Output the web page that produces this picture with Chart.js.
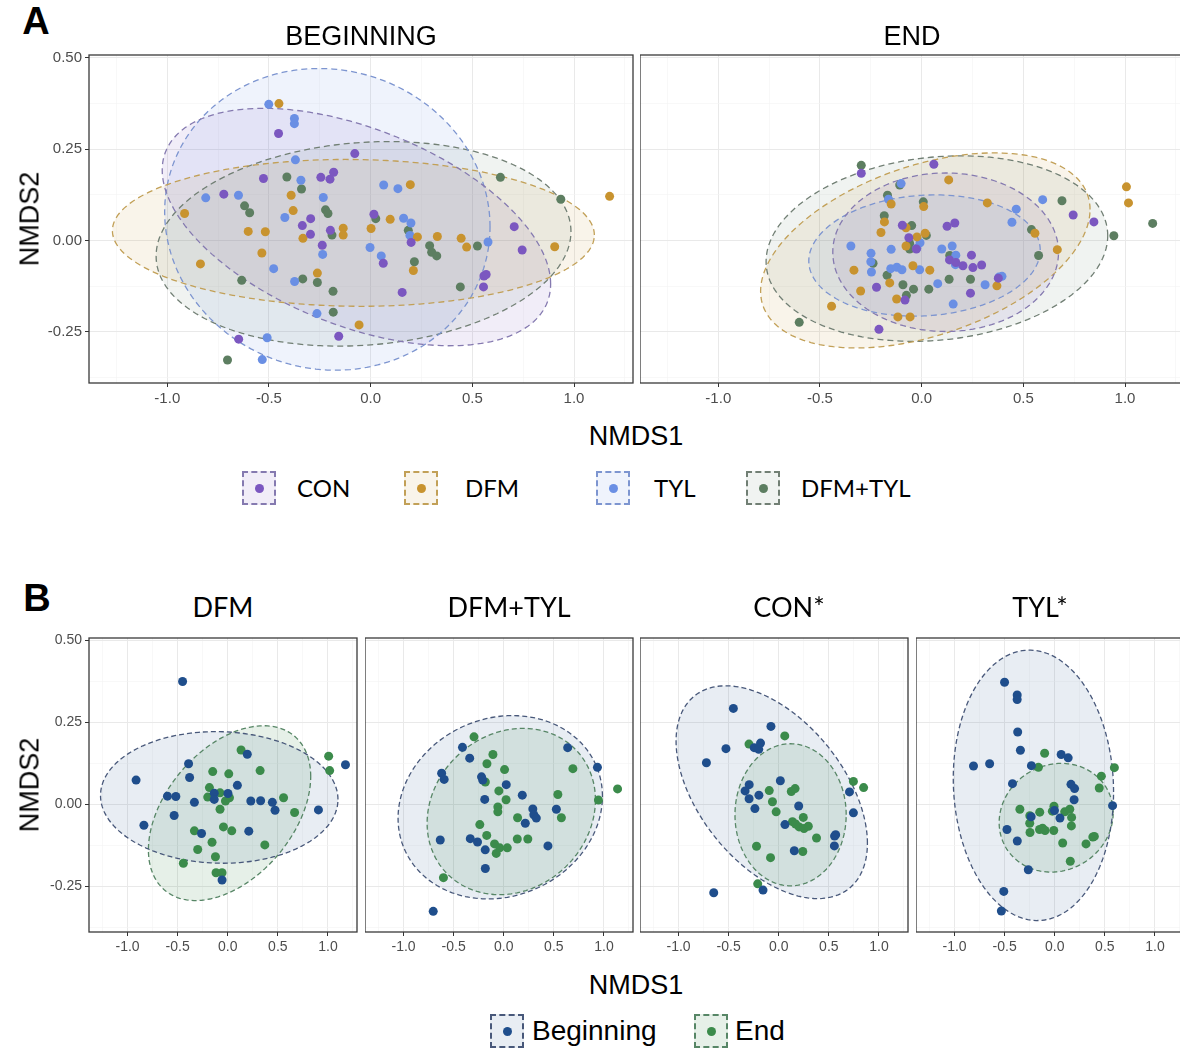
<!DOCTYPE html>
<html>
<head>
<meta charset="utf-8">
<script src="https://cdn.jsdelivr.net/npm/chart.js@4.4.1/dist/chart.umd.min.js"></script>
<style>
  html, body { margin: 0; padding: 0; background: #fff; overflow: hidden; }
  #fig { position: relative; width: 1180px; height: 1048px; overflow: hidden; font-family: "Liberation Sans", Arial, sans-serif; }
  #fig canvas { position: absolute; }
  .t { position: absolute; line-height: 1; white-space: nowrap; transform: translate(-50%, -50%); color: #000; }
  .key { position: absolute; box-sizing: border-box; width: 34px; height: 34px; border: 2px dashed; }
  .key i { position: absolute; left: 50%; top: 50%; width: 9px; height: 9px; margin: -4.5px 0 0 -4.5px; border-radius: 50%; }
</style>
</head>
<body>
<div id="fig"></div>
<script>
// axis ticks (shared by every facet)
const xMajor = [-1.0, -0.5, 0.0, 0.5, 1.0];
const xMinor = [-1.25, -0.75, -0.25, 0.25, 0.75, 1.25];
const xTickLabels = ['-1.0', '-0.5', '0.0', '0.5', '1.0'];
const yMajor = [-0.25, 0.0, 0.25, 0.5];
const yMinor = [-0.375, -0.125, 0.125, 0.375];
const yTickLabels = ['-0.25', '0.00', '0.25', '0.50'];
const X_MIN = -1.385, X_MAX = 1.29, Y_MIN = -0.39, Y_MAX = 0.508;

const groupNames = ['CON', 'DFM', 'TYL', 'DFM+TYL'];
const periodNames = ['Beginning', 'End'];
const facetTitlesA = ['BEGINNING', 'END'];
const facetTitlesB = ['DFM', 'DFM+TYL', 'CON*', 'TYL*'];

// NMDS scores, [NMDS1, NMDS2]
const conBeginning = [[-0.453,0.293],[-0.078,0.238],[-0.527,0.170],[-0.245,0.173],[-0.200,0.168],[-0.182,0.187],
  [-0.722,0.127],[-0.295,0.060],[-0.336,0.041],[-0.296,0.017],[-0.198,0.028],[-0.238,-0.013],[0.016,0.072],
  [0.199,-0.005],[0.062,-0.062],[0.155,-0.142],[0.557,-0.097],[0.568,-0.093],[0.555,-0.127],[0.706,0.038],
  [0.745,-0.026],[-0.649,-0.270],[-0.157,-0.262]];
const conEnd = [[0.060,0.209],[-0.297,0.184],[-0.095,0.042],[0.125,0.039],[0.163,0.048],[-0.063,0.008],
  [0.745,0.070],[0.847,0.051],[0.137,-0.053],[0.168,-0.060],[0.203,-0.069],[0.245,-0.040],[0.252,-0.074],
  [0.295,-0.067],[-0.026,-0.023],[0.377,-0.103],[-0.222,-0.128],[-0.082,-0.163],[0.240,-0.144],[-0.210,-0.243]];
const dfmBeginning = [[-0.451,0.375],[0.195,0.153],[1.175,0.121],[-0.915,0.074],[-0.391,0.124],[-0.381,0.082],
  [-0.602,0.025],[-0.518,0.024],[-0.333,0.006],[-0.135,0.034],[-0.135,0.015],[0.002,0.033],[0.096,0.058],
  [0.230,0.010],[0.328,0.011],[0.445,0.006],[0.472,-0.018],[0.905,-0.017],[-0.535,-0.034],[-0.837,-0.064],
  [-0.262,-0.089],[0.210,-0.082],[-0.057,-0.231]];
const dfmEnd = [[0.133,0.166],[1.007,0.147],[1.017,0.103],[-0.150,0.100],[0.010,0.093],[0.323,0.103],
  [-0.183,0.051],[-0.200,0.022],[-0.077,0.035],[-0.023,0.010],[0.017,0.020],[0.557,0.020],[0.667,-0.025],
  [-0.077,-0.015],[-0.333,-0.081],[-0.043,-0.069],[0.040,-0.081],[-0.157,-0.116],[-0.300,-0.138],
  [0.370,-0.124],[-0.123,-0.160],[-0.443,-0.180],[-0.117,-0.209],[-0.057,-0.209]];
const tylBeginning = [[-0.501,0.373],[-0.375,0.334],[-0.375,0.320],[-0.370,0.221],[-0.343,0.165],[-0.233,0.118],
  [-0.811,0.117],[-0.650,0.124],[-0.422,0.063],[0.064,0.152],[0.134,0.142],[0.162,0.061],[0.198,0.048],
  [0.193,0.014],[-0.236,-0.038],[-0.003,-0.019],[0.052,-0.042],[-0.477,-0.077],[-0.374,-0.112],[0.577,-0.004],
  [-0.264,-0.200],[-0.509,-0.266],[-0.533,-0.326]];
const tylEnd = [[-0.101,0.156],[-0.163,0.113],[0.595,0.112],[0.465,0.086],[0.444,0.050],[-0.348,-0.015],
  [-0.249,-0.035],[-0.250,-0.058],[-0.247,-0.086],[-0.150,-0.024],[-0.152,-0.077],[-0.122,-0.073],
  [-0.097,-0.080],[-0.010,-0.080],[-0.008,-0.006],[-0.024,-0.021],[0.099,-0.023],[0.150,-0.015],[0.168,-0.040],
  [0.166,-0.066],[0.079,-0.118],[0.312,-0.121],[0.380,-0.100],[0.395,-0.098],[0.155,-0.174]];
const dfmTylBeginning = [[-0.412,0.174],[-0.340,0.141],[-0.620,0.095],[-0.595,0.076],[-0.222,0.084],[-0.210,0.074],
  [-0.190,0.015],[0.025,0.060],[0.185,0.028],[0.290,-0.014],[0.300,-0.032],[0.325,-0.042],[0.215,-0.058],
  [0.525,-0.015],[0.638,0.173],[0.935,0.113],[-0.634,-0.109],[-0.334,-0.105],[-0.262,-0.115],[-0.185,-0.139],
  [0.441,-0.127],[-0.184,-0.196],[-0.704,-0.327]];
const dfmTylEnd = [[-0.297,0.206],[-0.108,0.152],[-0.168,0.124],[-0.184,0.068],[0.008,0.106],[-0.049,0.041],
  [0.023,0.014],[-0.059,-0.008],[-0.059,-0.023],[0.138,-0.041],[-0.239,-0.062],[-0.170,-0.095],[-0.092,-0.121],
  [-0.075,-0.150],[-0.040,-0.133],[0.035,-0.133],[0.135,-0.106],[0.240,-0.106],[0.540,0.030],[0.575,-0.041],
  [0.690,0.109],[0.945,0.013],[1.136,0.047],[-0.602,-0.224]];

// confidence ellipses: [centre x, centre y, half-width x, half-height y, correlation]
const conBeginningEllipse = [-0.070, 0.037, 0.955, 0.325, -0.48];
const conEndEllipse = [0.118, -0.032, 0.555, 0.217, 0.0];
const dfmBeginningEllipse = [-0.085, 0.021, 1.185, 0.201, -0.03];
const dfmEndEllipse = [0.018, -0.027, 0.810, 0.267, 0.42];
const tylBeginningEllipse = [-0.213, 0.058, 0.800, 0.413, -0.05];
const tylEndEllipse = [0.014, -0.041, 0.569, 0.166, 0.09];
const dfmTylBeginningEllipse = [-0.035, -0.009, 1.020, 0.280, 0.12];
const dfmTylEndEllipse = [0.075, -0.022, 0.840, 0.254, 0.14];

// colours
const groupColor = ['#7b57c0', '#c8932f', '#6a8fe4', '#5d7e61'];
const groupStroke = ['#857ab0', '#c2a057', '#7d95d0', '#717f74'];
const groupFill = ['rgba(123,87,192,0.11)', 'rgba(200,147,47,0.10)', 'rgba(106,143,228,0.11)', 'rgba(93,126,97,0.09)'];
const periodColor = ['#1f4e8c', '#3b8b4b'];
const periodStroke = ['#48587a', '#578666'];
const periodFill = ['rgba(31,78,140,0.10)', 'rgba(59,139,75,0.13)'];

const fig = document.getElementById('fig');

function addText(txt, x, y, style) {
  const d = document.createElement('div');
  d.className = 't';
  d.textContent = txt;
  d.style.left = x + 'px';
  d.style.top = y + 'px';
  Object.assign(d.style, style || {});
  fig.appendChild(d);
  return d;
}

function addKey(x, y, stroke, fill, dot) {
  const k = document.createElement('div');
  k.className = 'key';
  k.style.left = x + 'px';
  k.style.top = y + 'px';
  k.style.borderColor = stroke;
  k.style.background = fill;
  const i = document.createElement('i');
  i.style.background = dot;
  k.appendChild(i);
  fig.appendChild(k);
}

function ellipsePath([cx, cy, sx, sy, r]) {
  const out = [];
  const k = Math.sqrt(1 - r * r);
  for (let i = 0; i <= 180; i++) {
    const t = i / 180 * 2 * Math.PI;
    out.push({ x: cx + sx * Math.cos(t), y: cy + sy * (r * Math.cos(t) + k * Math.sin(t)) });
  }
  return out;
}

const near = (list, v) => list.findIndex(m => Math.abs(m - v) < 1e-6);

// fills each ellipse polygon underneath the points
const ellipseFill = {
  id: 'ellipseFill',
  beforeDatasetsDraw(chart) {
    const { ctx, chartArea: a } = chart;
    ctx.save();
    ctx.beginPath();
    ctx.rect(a.left, a.top, a.width, a.height);
    ctx.clip();
    chart.data.datasets.forEach((ds, i) => {
      if (!ds.ellipse) return;
      const pts = chart.getDatasetMeta(i).data;
      ctx.beginPath();
      pts.forEach((p, j) => j ? ctx.lineTo(p.x, p.y) : ctx.moveTo(p.x, p.y));
      ctx.closePath();
      ctx.fillStyle = ds.backgroundColor;
      ctx.fill();
    });
    ctx.restore();
  }
};

// theme_bw style box round the panel
const panelBorder = {
  id: 'panelBorder',
  afterDraw(chart) {
    const { ctx, chartArea: a } = chart;
    ctx.save();
    ctx.strokeStyle = '#3a3a3a';
    ctx.lineWidth = 1.3;
    ctx.strokeRect(a.left, a.top, a.width, a.height);
    ctx.restore();
  }
};

function axis(major, minor, labels, min, max, fontSize, show, fit) {
  return {
    type: 'linear', min: min, max: max, bounds: 'data',
    afterBuildTicks: s => { s.ticks = minor.concat(major).sort((a, b) => a - b).map(v => ({ value: v })); },
    afterFit: fit,
    border: { display: false },
    grid: {
      color: c => (c.tick && near(major, c.tick.value) >= 0) ? '#e9e9e9' : '#f3f3f3',
      lineWidth: c => (c.tick && near(major, c.tick.value) >= 0) ? 1 : 0.6,
      tickColor: c => (c.tick && near(major, c.tick.value) >= 0) ? '#333' : 'rgba(0,0,0,0)',
      tickLength: 4,
      drawTicks: show
    },
    ticks: {
      display: show, autoSkip: false, maxRotation: 0, padding: 3, color: '#4d4d4d',
      font: { family: '"Liberation Sans", Arial, sans-serif', size: fontSize },
      callback: v => { const i = near(major, v); return i >= 0 ? labels[i] : ''; }
    }
  };
}

function panel(rect, showY, fontSize, sets, dash) {
  const padTop = 10, padRight = 10, axisH = 32;
  const axisW = showY ? rect.x : 0;
  const c = document.createElement('canvas');
  c.width = rect.w + axisW + padRight;
  c.height = rect.h + axisH + padTop;
  c.style.left = (rect.x - axisW) + 'px';
  c.style.top = (rect.y - padTop) + 'px';
  fig.appendChild(c);

  const datasets = [];
  sets.forEach(s => datasets.push({
    data: s.points.map(([x, y]) => ({ x, y })),
    pointRadius: 4.5, pointHoverRadius: 4.5, pointBorderWidth: 0,
    pointBackgroundColor: s.color, showLine: false, order: 0
  }));
  sets.forEach(s => datasets.push({
    data: ellipsePath(s.ellipse), ellipse: true,
    showLine: true, pointRadius: 0, borderColor: s.stroke, borderWidth: 1.3,
    borderDash: dash, backgroundColor: s.fill, fill: false, tension: 0, order: 1
  }));

  new Chart(c, {
    type: 'scatter',
    data: { datasets },
    options: {
      responsive: false, animation: false, devicePixelRatio: 1, events: [],
      layout: { padding: { top: padTop, right: padRight, left: 0, bottom: 0 }, autoPadding: false },
      plugins: { legend: { display: false }, tooltip: { enabled: false } },
      scales: {
        x: axis(xMajor, xMinor, xTickLabels, X_MIN, X_MAX, fontSize, true,
          s => { s.height = axisH; s.paddingLeft = 0; s.paddingRight = 0; }),
        y: axis(yMajor, yMinor, yTickLabels, Y_MIN, Y_MAX, fontSize, showY,
          s => { s.width = axisW; s.paddingTop = 0; s.paddingBottom = 0; })
      }
    },
    plugins: [ellipseFill, panelBorder]
  });
}

// ---- A: all treatments, beginning vs end ----
const beginningSets = [
  { points: conBeginning, ellipse: conBeginningEllipse },
  { points: dfmBeginning, ellipse: dfmBeginningEllipse },
  { points: tylBeginning, ellipse: tylBeginningEllipse },
  { points: dfmTylBeginning, ellipse: dfmTylBeginningEllipse }
];
const endSets = [
  { points: conEnd, ellipse: conEndEllipse },
  { points: dfmEnd, ellipse: dfmEndEllipse },
  { points: tylEnd, ellipse: tylEndEllipse },
  { points: dfmTylEnd, ellipse: dfmTylEndEllipse }
];
const colourGroup = (sets) => sets.map((s, g) => Object.assign({}, s,
  { color: groupColor[g], stroke: groupStroke[g], fill: groupFill[g] }));

panel({ x: 89, y: 55, w: 544, h: 328 }, true, 15, colourGroup(beginningSets), [6, 4]);
panel({ x: 640, y: 55, w: 544, h: 328 }, false, 15, colourGroup(endSets), [6, 4]);

addText('A', 36, 21, { fontSize: '38px', fontWeight: 'bold' });
addText(facetTitlesA[0], 361, 36, { fontSize: '27px' });
addText(facetTitlesA[1], 912, 36, { fontSize: '27px' });
addText('NMDS2', 30, 219, { fontSize: '27px', transform: 'translate(-50%,-50%) rotate(-90deg)' });
addText('NMDS1', 636, 436, { fontSize: '27px' });

const keyXA = [242, 404, 596, 746];
const labelXA = [297, 465, 654, 801];
groupNames.forEach((name, g) => {
  addKey(keyXA[g], 471, groupStroke[g], groupFill[g], groupColor[g]);
  addText(name, labelXA[g], 488, { fontSize: '24px', fontFamily: 'Lato, "Open Sans", sans-serif', transform: 'translate(0,-50%)' });
});

// ---- B: each treatment, beginning vs end ----
const byTreatment = [
  [dfmBeginning, dfmEnd, dfmBeginningEllipse, dfmEndEllipse],
  [dfmTylBeginning, dfmTylEnd, dfmTylBeginningEllipse, dfmTylEndEllipse],
  [conBeginning, conEnd, conBeginningEllipse, conEndEllipse],
  [tylBeginning, tylEnd, tylBeginningEllipse, tylEndEllipse]
];
const panelXB = [89, 365, 640, 916];
const titleXB = [223, 509, 789, 1040];
byTreatment.forEach(([b, e, be, ee], i) => {
  const sets = [
    { points: b, ellipse: be, color: periodColor[0], stroke: periodStroke[0], fill: periodFill[0] },
    { points: e, ellipse: ee, color: periodColor[1], stroke: periodStroke[1], fill: periodFill[1] }
  ];
  panel({ x: panelXB[i], y: 638, w: 268, h: 294 }, i === 0, 14, sets, [5, 3]);
  addText(facetTitlesB[i], titleXB[i], 606, { fontSize: '27px', fontFamily: 'Lato, "Open Sans", sans-serif' });
});

addText('B', 37, 598, { fontSize: '38px', fontWeight: 'bold' });
addText('NMDS2', 30, 785, { fontSize: '27px', transform: 'translate(-50%,-50%) rotate(-90deg)' });
addText('NMDS1', 636, 985, { fontSize: '27px' });

const keyXB = [490, 694];
const labelXB = [532, 735];
periodNames.forEach((name, p) => {
  addKey(keyXB[p], 1014, periodStroke[p], periodFill[p], periodColor[p]);
  addText(name, labelXB[p], 1031, { fontSize: '28px', transform: 'translate(0,-50%)' });
});
</script>
</body>
</html>
